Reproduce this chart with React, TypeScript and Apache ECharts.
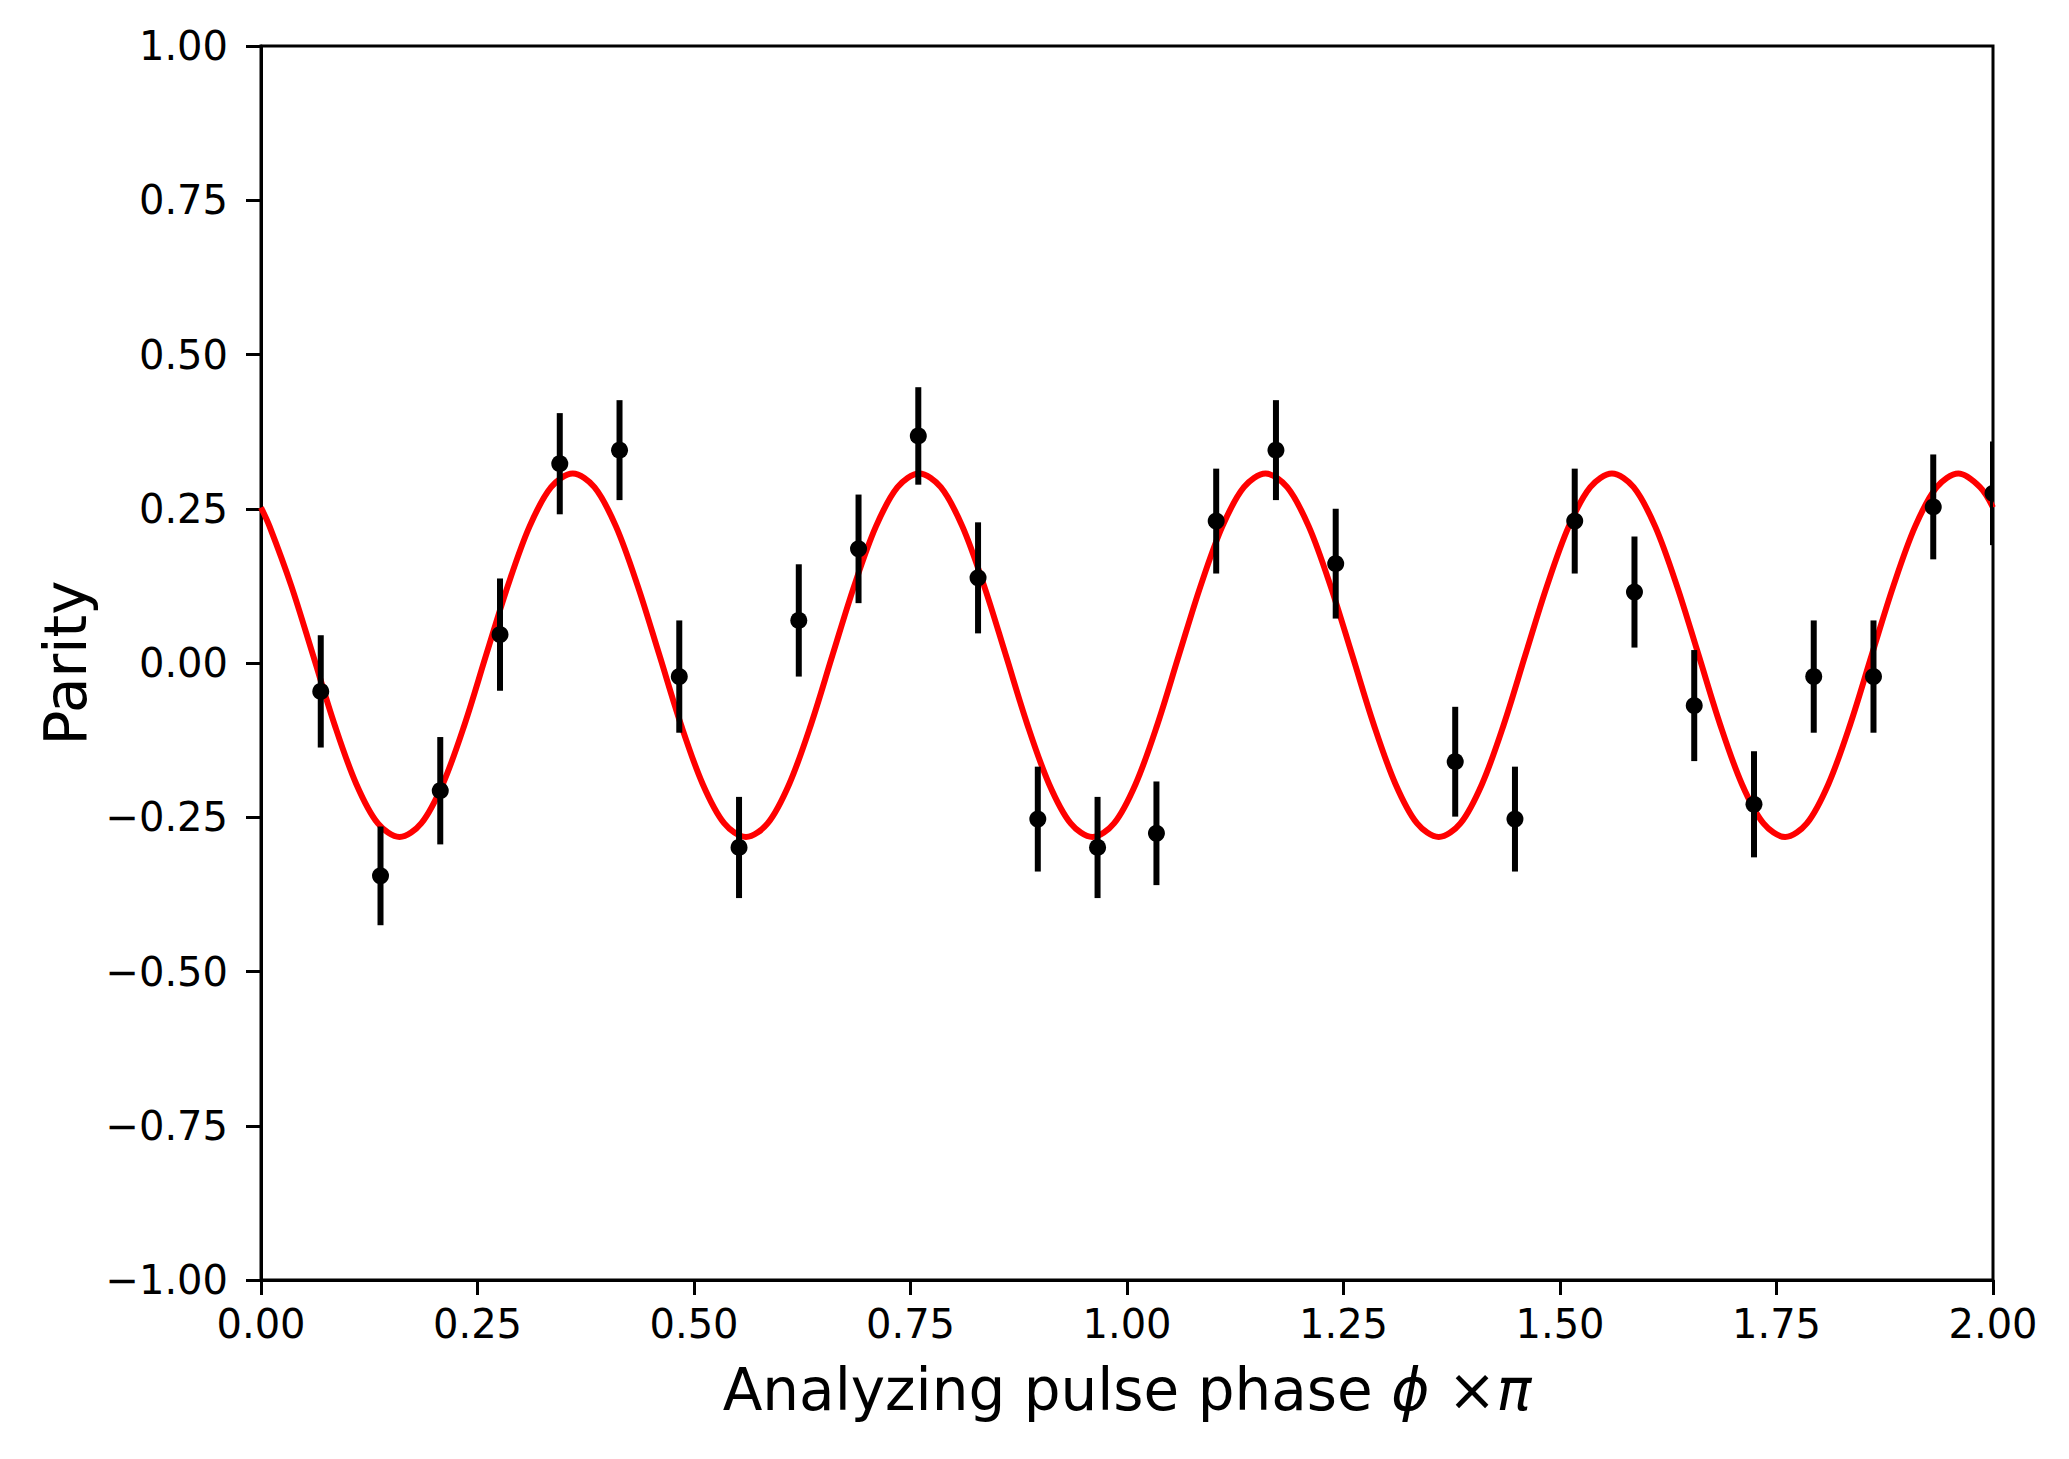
import React, { useEffect, useRef } from "react";
import * as echarts from "echarts";

// Measured data points (phase in units of pi, parity, error)
const phaseX: number[] = [
  0.069, 0.138, 0.207, 0.276, 0.345, 0.414, 0.483, 0.552, 0.621, 0.69,
  0.759, 0.828, 0.897, 0.966, 1.034, 1.103, 1.172, 1.241, 1.379, 1.448,
  1.517, 1.586, 1.655, 1.724, 1.793, 1.862, 1.931, 2.0,
];
const parityY: number[] = [
  -0.046, -0.345, -0.207, 0.046, 0.323, 0.345, -0.022, -0.299, 0.069, 0.185,
  0.368, 0.138, -0.253, -0.299, -0.276, 0.23, 0.345, 0.161, -0.16, -0.253,
  0.23, 0.115, -0.069, -0.229, -0.022, -0.022, 0.253, 0.275,
];
const parityErr: number[] = [
  0.091, 0.08, 0.087, 0.091, 0.082, 0.081, 0.091, 0.082, 0.091, 0.088,
  0.079, 0.09, 0.085, 0.082, 0.084, 0.085, 0.081, 0.089, 0.089, 0.085,
  0.085, 0.09, 0.09, 0.086, 0.091, 0.091, 0.085, 0.084,
];

// Fit curve at regular phase steps
const fitCurve: [number, number][] = [
  [0.0, 0.252], [0.01, 0.221], [0.035, 0.125], [0.06, 0.013], [0.085, -0.1],
  [0.11, -0.196], [0.135, -0.26], [0.16, -0.282], [0.185, -0.26], [0.21, -0.196],
  [0.235, -0.1], [0.26, 0.013], [0.285, 0.125], [0.31, 0.221], [0.335, 0.285],
  [0.36, 0.307], [0.385, 0.285], [0.41, 0.221], [0.435, 0.125], [0.46, 0.013],
  [0.485, -0.1], [0.51, -0.196], [0.535, -0.26], [0.56, -0.282], [0.585, -0.26],
  [0.61, -0.196], [0.635, -0.1], [0.66, 0.013], [0.685, 0.125], [0.71, 0.221],
  [0.735, 0.285], [0.76, 0.307], [0.785, 0.285], [0.81, 0.221], [0.835, 0.125],
  [0.86, 0.013], [0.885, -0.1], [0.91, -0.196], [0.935, -0.26], [0.96, -0.282],
  [0.985, -0.26], [1.01, -0.196], [1.035, -0.1], [1.06, 0.013], [1.085, 0.125],
  [1.11, 0.221], [1.135, 0.285], [1.16, 0.307], [1.185, 0.285], [1.21, 0.221],
  [1.235, 0.125], [1.26, 0.013], [1.285, -0.1], [1.31, -0.196], [1.335, -0.26],
  [1.36, -0.282], [1.385, -0.26], [1.41, -0.196], [1.435, -0.1], [1.46, 0.013],
  [1.485, 0.125], [1.51, 0.221], [1.535, 0.285], [1.56, 0.307], [1.585, 0.285],
  [1.61, 0.221], [1.635, 0.125], [1.66, 0.013], [1.685, -0.1], [1.71, -0.196],
  [1.735, -0.26], [1.76, -0.282], [1.785, -0.26], [1.81, -0.196], [1.835, -0.1],
  [1.86, 0.013], [1.885, 0.125], [1.91, 0.221], [1.935, 0.285], [1.96, 0.307],
  [1.985, 0.285], [2.0, 0.252],
];

const X_MIN = 0;
const X_MAX = 2;
const X_STEP = 0.25;
const Y_MIN = -1;
const Y_MAX = 1;
const Y_STEP = 0.25;

const X_NAME = "Analyzing pulse phase {i|\u03D5} \u00D7{i|\u03C0}";
const Y_NAME = "Parity";

const FONT = "DejaVu Sans";

const fmt = (v: number) => v.toFixed(2).replace("-", "\u2212");

export default function App() {
  const ref = useRef<HTMLDivElement | null>(null);

  useEffect(() => {
    if (!ref.current) return;
    const chart = echarts.init(ref.current, undefined, { renderer: "svg" });

    const pointData = phaseX.map((x, i) => [x, parityY[i], parityErr[i]]);

    const axisCommon = {
      axisLine: { show: true, onZero: false, lineStyle: { color: "#000", width: 3 } },
      axisTick: { show: true, length: 15, lineStyle: { color: "#000", width: 3 } },
      splitLine: { show: false },
    };

    chart.setOption({
      animation: false,
      backgroundColor: "#ffffff",
      textStyle: { fontFamily: FONT },
      grid: {
        left: 261,
        right: 76,
        top: 46,
        bottom: 179,
        show: true,
        borderColor: "#000",
        borderWidth: 3,
        backgroundColor: "transparent",
      },
      xAxis: {
        type: "value",
        min: X_MIN,
        max: X_MAX,
        interval: X_STEP,
        ...axisCommon,
        axisLabel: {
          fontSize: 40,
          color: "#000",
          fontFamily: FONT,
          margin: 24,
          formatter: fmt,
        },
        name: X_NAME,
        nameLocation: "middle",
        nameGap: 81,
        nameTextStyle: {
          fontSize: 58,
          color: "#000",
          fontFamily: FONT,
          rich: {
            i: { fontSize: 58, color: "#000", fontFamily: FONT, fontStyle: "italic" },
          },
        },
      },
      yAxis: {
        type: "value",
        min: Y_MIN,
        max: Y_MAX,
        interval: Y_STEP,
        ...axisCommon,
        axisLabel: {
          fontSize: 40,
          color: "#000",
          fontFamily: FONT,
          margin: 33,
          formatter: fmt,
        },
        name: Y_NAME,
        nameLocation: "middle",
        nameRotate: 90,
        nameGap: 160,
        nameTextStyle: { fontSize: 58, color: "#000", fontFamily: FONT },
      },
      series: [
        {
          type: "line",
          data: fitCurve,
          smooth: 0.33,
          showSymbol: false,
          symbol: "none",
          lineStyle: { color: "#ff0000", width: 6 },
          z: 2,
          clip: true,
        },
        {
          type: "custom",
          data: pointData,
          clip: true,
          z: 5,
          encode: { x: 0, y: 1 },
          renderItem: (_params: any, api: any) => {
            const x = api.value(0);
            const y = api.value(1);
            const e = api.value(2);
            const top = api.coord([x, y + e]);
            const bot = api.coord([x, y - e]);
            const c = api.coord([x, y]);
            return {
              type: "group",
              children: [
                {
                  type: "line",
                  shape: { x1: top[0], y1: top[1], x2: bot[0], y2: bot[1] },
                  style: { stroke: "#000", lineWidth: 6 },
                },
                {
                  type: "circle",
                  shape: { cx: c[0], cy: c[1], r: 8.5 },
                  style: { fill: "#000" },
                },
              ],
            };
          },
        },
      ],
    });

    return () => {
      chart.dispose();
    };
  }, []);

  return (
    <div
      ref={ref}
      style={{
        position: "absolute",
        left: 0,
        top: 0,
        width: 2069,
        height: 1459,
        background: "#fff",
      }}
    />
  );
}
